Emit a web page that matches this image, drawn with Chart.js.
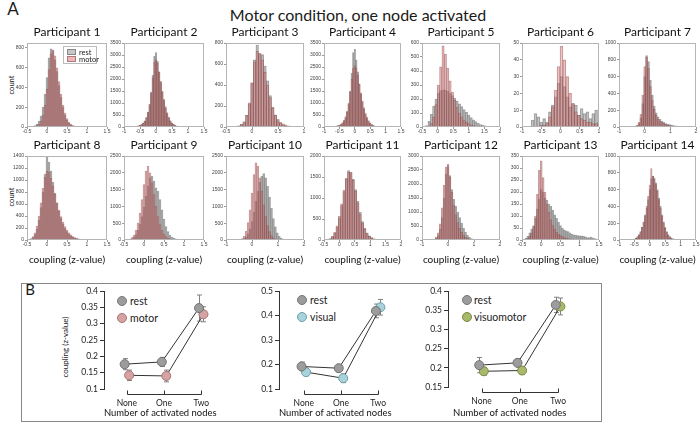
<!DOCTYPE html>
<html>
<head>
<meta charset="utf-8">
<title>Motor condition, one node activated</title>
<script src="https://cdn.jsdelivr.net/npm/chart.js@4.4.1/dist/chart.umd.min.js"></script>
<style>
  body { margin: 0; background: #fff; font-family: Lato, sans-serif; color: #1a1a1a; }
  #page { position: relative; width: 700px; height: 424px; overflow: hidden; }
  #page canvas { position: absolute; }
  .txt { position: absolute; white-space: nowrap; line-height: 1; transform: translate(-50%, -50%); }
  .rot { transform: translate(-50%, -50%) rotate(-90deg); }
  .lt { position: absolute; white-space: nowrap; line-height: 1; transform: translateY(-50%); font-size: 10.5px; color: #222; }
  .dot { position: absolute; width: 8px; height: 8px; border-radius: 50%; transform: translate(-50%, -50%); }
  #boxB { position: absolute; left: 21px; top: 283px; width: 579px; height: 137px; border: 1.5px solid #888; }
  #histLegend { position: absolute; left: 63px; top: 46px; width: 32px; height: 16px; border: 1px solid #bbb; background: #fff; font-size: 7.5px; z-index: 5; }
  #histLegend div { position: absolute; left: 3px; line-height: 1; white-space: nowrap; }
  #histLegend span { display: inline-block; width: 7px; height: 4px; margin-right: 3px; vertical-align: 0px; }
</style>
</head>
<body>
<div id="page">
  <div class="txt" style="left:13px;top:8px;font-size:17px">A</div>
  <div class="txt" style="left:358px;top:15px;font-size:16px">Motor condition, one node activated</div>
  <div class="txt rot" style="left:12px;top:85px;font-size:7.5px">count</div>
  <div class="txt rot" style="left:12px;top:197px;font-size:7.5px">count</div>
  <div id="histLegend">
    <div style="top:2px"><span style="background:#c6c6c6;border:0.5px solid #888"></span>rest</div>
    <div style="top:9px"><span style="background:#ebb8b8;border:0.5px solid #b07a7a"></span>motor</div>
  </div>

  <div id="boxB"></div>
  <div class="txt" style="left:30px;top:289px;font-size:15px">B</div>
  <div class="txt rot" style="left:65px;top:347px;font-size:8px">coupling (z-value)</div>

  <div class="dot" style="left:122px;top:301px;background:#9c9c9c;border:1px solid #777"></div>
  <div class="lt" style="left:130px;top:301px">rest</div>
  <div class="dot" style="left:122px;top:318px;background:#d6a3a3;border:1px solid #a87474"></div>
  <div class="lt" style="left:130px;top:318px">motor</div>

  <div class="dot" style="left:302px;top:300px;background:#9c9c9c;border:1px solid #777"></div>
  <div class="lt" style="left:310px;top:300px">rest</div>
  <div class="dot" style="left:302px;top:317px;background:#a8d3dc;border:1px solid #6e9ea8"></div>
  <div class="lt" style="left:310px;top:317px">visual</div>

  <div class="dot" style="left:467px;top:300px;background:#9c9c9c;border:1px solid #777"></div>
  <div class="lt" style="left:474px;top:300px">rest</div>
  <div class="dot" style="left:467px;top:317px;background:#a9b96b;border:1px solid #7a8a40"></div>
  <div class="lt" style="left:474px;top:317px">visuomotor</div>
</div>

<script>
// ---- Panel A: histogram counts per bin (rest vs motor) ----
const participants = ['Participant 1', 'Participant 2', 'Participant 3', 'Participant 4', 'Participant 5',
    'Participant 6', 'Participant 7', 'Participant 8', 'Participant 9', 'Participant 10',
    'Participant 11', 'Participant 12', 'Participant 13', 'Participant 14'];

// first bin centre and bin width of each histogram
const binStart = [-0.35, -0.85, -0.35, -0.85, -0.35, -0.725, -0.45, -0.45, -0.4, -0.45, -0.45, -0.6, -0.45, -0.6];
const binWidth = [0.05, 0.05, 0.05, 0.05, 0.075, 0.075, 0.075, 0.05, 0.05, 0.075, 0.075, 0.075, 0.05, 0.05];

// axis ranges and tick steps
const xMin = [-0.5, -1, -0.5, -1, -0.5, -1, -1, -0.5, -0.5, -1, -0.5, -1, -0.5, -1];
const xMax = [1.5, 1.5, 1, 1.5, 2, 1, 2, 1.5, 1.5, 2, 2, 2, 1.5, 1.5];
const xStep = [0.5, 0.5, 0.5, 0.5, 0.5, 0.5, 1, 0.5, 0.5, 1, 0.5, 1, 0.5, 0.5];
const yMax = [850, 3500, 800, 3500, 600, 50, 1000, 1400, 2500, 2500, 2000, 3000, 350, 1000];
const yStep = [200, 500, 200, 500, 100, 10, 200, 200, 500, 500, 500, 500, 50, 200];

const rest1 = [5, 15, 30, 60, 110, 200, 330, 500, 700, 790, 770, 680, 560, 420, 300, 200, 120, 70, 40, 22, 12, 7, 4, 2, 1];
const motor1 = [2, 6, 15, 30, 60, 120, 220, 380, 580, 740, 780, 720, 600, 460, 330, 220, 140, 85, 50, 28, 15, 8, 4, 2, 1];
const rest2 = [5, 8, 12, 18, 25, 35, 50, 75, 110, 170, 260, 400, 620, 950, 1450, 2150, 2950, 3100, 2750, 2300, 1850, 1450, 1100, 800, 560, 380, 250, 160, 100, 60, 35, 20, 12, 7, 4, 2, 1];
const motor2 = [4, 6, 10, 15, 22, 32, 46, 70, 105, 160, 250, 385, 600, 920, 1400, 2050, 2700, 2800, 2650, 2300, 1900, 1500, 1150, 850, 600, 410, 270, 175, 110, 65, 40, 24, 14, 8, 5, 3, 1];
const rest3 = [2, 5, 12, 25, 50, 110, 220, 420, 640, 780, 700, 690, 580, 440, 300, 190, 110, 60, 35, 20, 10, 5, 3, 2, 1, 0];
const motor3 = [2, 5, 10, 22, 50, 110, 230, 420, 620, 720, 700, 640, 520, 400, 280, 180, 115, 72, 45, 30, 20, 12, 7, 4, 2, 1];
const rest4 = [4, 7, 11, 16, 24, 34, 48, 72, 105, 165, 255, 390, 610, 960, 1500, 2250, 3100, 3250, 2800, 2300, 1800, 1380, 1030, 750, 520, 350, 230, 150, 95, 58, 34, 20, 12, 7, 4, 2, 1];
const motor4 = [4, 7, 11, 17, 26, 38, 55, 82, 120, 185, 285, 430, 660, 1000, 1450, 2000, 2450, 2550, 2450, 2150, 1780, 1420, 1090, 810, 580, 400, 270, 175, 110, 68, 40, 24, 14, 8, 5, 3, 1];
const rest5 = [10, 40, 90, 150, 200, 240, 260, 265, 262, 255, 240, 225, 205, 185, 165, 145, 125, 105, 85, 68, 52, 38, 27, 18, 12, 8, 5, 3, 2];
const motor5 = [2, 8, 25, 70, 160, 300, 430, 580, 520, 420, 330, 250, 190, 140, 100, 72, 50, 35, 24, 16, 10, 7, 4, 3, 2, 1, 1, 0, 0];
const rest6 = [4, 8, 6, 3, 5, 3, 9, 13, 18, 26, 30, 24, 18, 12, 14, 13, 7, 11, 8, 9, 5, 8, 10, 3];
const motor6 = [0, 0, 0, 1, 1, 2, 6, 12, 22, 36, 48, 40, 30, 20, 14, 9, 7, 5, 4, 3, 3, 2, 2, 1];
const rest7 = [2, 6, 15, 40, 110, 280, 600, 850, 780, 560, 380, 250, 170, 120, 90, 70, 55, 42, 34, 28, 22, 17, 13, 10, 8, 6, 5, 4, 3, 2, 1];
const motor7 = [3, 8, 20, 55, 150, 380, 720, 830, 700, 480, 320, 210, 140, 95, 70, 52, 40, 30, 24, 18, 14, 10, 8, 6, 4, 3, 2, 2, 1, 1, 0];
const rest8 = [5, 15, 40, 90, 180, 330, 540, 800, 1100, 1380, 1300, 1150, 960, 780, 620, 480, 360, 270, 200, 140, 100, 70, 48, 32, 20, 13, 8, 5, 3, 2];
const motor8 = [8, 22, 55, 120, 230, 400, 620, 860, 1050, 1150, 1130, 1030, 900, 760, 620, 500, 390, 300, 225, 165, 120, 85, 58, 40, 27, 18, 11, 7, 4, 2];
const rest9 = [5, 15, 35, 80, 160, 290, 470, 700, 980, 1300, 1600, 1850, 1900, 1750, 1550, 1450, 1200, 900, 620, 400, 250, 150, 90, 55, 32, 18, 10, 6, 3, 2];
const motor9 = [10, 30, 70, 150, 290, 500, 800, 1200, 1650, 2050, 2200, 2000, 1700, 1350, 1000, 700, 460, 290, 175, 100, 58, 32, 18, 10, 5, 3, 2, 1, 0, 0];
const rest10 = [5, 15, 40, 90, 180, 330, 550, 820, 1150, 1450, 1720, 1900, 1980, 1850, 1600, 1280, 940, 640, 390, 215, 110, 55, 25, 12, 5];
const motor10 = [10, 40, 110, 260, 520, 900, 1400, 1950, 2300, 2200, 1850, 1450, 1050, 700, 430, 250, 130, 65, 30, 14, 6, 3, 1, 0, 0];
const rest11 = [3, 10, 30, 75, 160, 310, 530, 820, 1150, 1450, 1650, 1620, 1450, 1200, 920, 660, 440, 280, 170, 100, 55, 30, 16, 8, 4];
const motor11 = [3, 12, 35, 85, 180, 340, 570, 860, 1180, 1470, 1620, 1600, 1420, 1160, 880, 620, 410, 260, 155, 90, 50, 27, 14, 7, 3];
const rest12 = [5, 20, 60, 160, 380, 800, 1500, 2350, 2650, 2300, 1800, 1450, 1200, 1000, 800, 600, 420, 280, 170, 100, 55, 30, 15, 8, 4];
const motor12 = [10, 35, 100, 260, 580, 1150, 1950, 2600, 2700, 2250, 1700, 1250, 900, 620, 420, 270, 170, 100, 60, 35, 20, 11, 6, 3, 1];
const rest13 = [3, 8, 15, 30, 45, 60, 90, 130, 170, 210, 200, 175, 165, 150, 140, 125, 105, 90, 75, 60, 50, 42, 38, 35, 30, 25, 22, 20, 18, 17, 17, 15, 13, 10, 10, 12, 8, 6, 3, 2];
const motor13 = [1, 3, 8, 15, 30, 55, 100, 190, 290, 330, 260, 200, 150, 115, 85, 60, 45, 32, 24, 18, 14, 10, 8, 6, 5, 4, 3, 2, 2, 1, 1, 0, 0, 0, 0, 0, 0, 0, 0, 0];
const rest14 = [3, 6, 12, 22, 40, 65, 100, 150, 210, 290, 380, 480, 600, 730, 760, 740, 680, 600, 500, 400, 300, 215, 150, 100, 65, 40, 25, 15, 9, 5, 3];
const motor14 = [2, 5, 10, 20, 38, 62, 98, 150, 215, 300, 400, 520, 650, 850, 760, 720, 660, 580, 480, 380, 285, 205, 140, 95, 60, 38, 23, 14, 8, 4, 2];

const restSeries = [rest1, rest2, rest3, rest4, rest5, rest6, rest7, rest8, rest9, rest10, rest11, rest12, rest13, rest14];
const motorSeries = [motor1, motor2, motor3, motor4, motor5, motor6, motor7, motor8, motor9, motor10, motor11, motor12, motor13, motor14];

// ---- Panel B: mean coupling with error bars ----
const nodeLabels = ['None', 'One', 'Two'];
const restMotor = [0.176, 0.183, 0.348];
const restMotorErr = [0.017, 0.014, 0.040];
const taskMotor = [0.142, 0.140, 0.329];
const taskMotorErr = [0.016, 0.018, 0.023];
const restVisual = [0.192, 0.185, 0.419];
const restVisualErr = [0.018, 0.010, 0.028];
const taskVisual = [0.169, 0.144, 0.434];
const taskVisualErr = [0.015, 0.018, 0.032];
const restVisuomotor = [0.207, 0.213, 0.364];
const restVisuomotorErr = [0.020, 0.011, 0.020];
const taskVisuomotor = [0.191, 0.193, 0.360];
const taskVisuomotorErr = [0.010, 0.010, 0.022];
const lineYMin = [0.1, 0.1, 0.15];
const lineYMax = [0.4, 0.5, 0.4];

// ---- layout (pixels) ----
const colLeft = [27, 124, 226, 324, 422, 522, 619];
const colRight = [107, 204, 304, 401, 500, 599, 696];

const page = document.getElementById('page');
const fmt = v => String(Math.round(v * 100) / 100);

function addCanvas(left, top, w, h) {
    const c = document.createElement('canvas');
    c.width = w; c.height = h;
    c.style.left = left + 'px'; c.style.top = top + 'px';
    c.style.width = w + 'px'; c.style.height = h + 'px';
    page.appendChild(c);
    return c;
}

// MATLAB-like box round the axes
const boxPlugin = {
    id: 'box',
    afterDraw(chart) {
        const { ctx, chartArea: a } = chart;
        ctx.save();
        ctx.strokeStyle = '#b5b5b5';
        ctx.lineWidth = 1;
        ctx.strokeRect(a.left + 0.5, a.top + 0.5, a.width - 1, a.height - 1);
        ctx.restore();
    }
};

function toBins(i, counts) {
    return counts.map((c, k) => ({ x: +(binStart[i] + k * binWidth[i]).toFixed(4), y: c }));
}

function histogram(i) {
    const col = i % 7, row = Math.floor(i / 7);
    const plotTop = row ? 156 : 43, plotH = 84;
    const axisW = 24, padR = 7, titleH = 18;
    const xAxisH = row ? 26 : 12;
    const w = colRight[col] - colLeft[col] + axisW + padR;
    const canvas = addCanvas(colLeft[col] - axisW, plotTop - titleH, w, titleH + plotH + xAxisH);
    const tickFont = { family: 'Liberation Sans', size: 5 };

    return new Chart(canvas, {
        type: 'bar',
        data: {
            datasets: [
                {
                    label: 'rest',
                    data: toBins(i, restSeries[i]),
                    backgroundColor: 'rgba(140, 140, 140, 0.5)',
                    borderColor: 'rgba(70, 70, 70, 0.45)',
                    borderWidth: 0.5,
                    order: 2
                },
                {
                    label: 'motor',
                    data: toBins(i, motorSeries[i]),
                    backgroundColor: 'rgba(220, 125, 125, 0.45)',
                    borderColor: 'rgba(110, 55, 55, 0.45)',
                    borderWidth: 0.5,
                    order: 1
                }
            ]
        },
        options: {
            responsive: false,
            animation: false,
            devicePixelRatio: 1,
            layout: { padding: { right: padR } },
            datasets: { bar: { barPercentage: 1, categoryPercentage: 1, grouped: false } },
            plugins: {
                legend: { display: false },
                tooltip: { enabled: false },
                title: {
                    display: true,
                    text: participants[i],
                    fullSize: false,
                    color: '#111',
                    font: { family: 'Lato', size: 12, weight: 'normal', lineHeight: 1.2 },
                    padding: { top: 0, bottom: 3.6 }
                }
            },
            scales: {
                x: {
                    type: 'linear',
                    offset: false,
                    min: xMin[i],
                    max: xMax[i],
                    ticks: { stepSize: xStep[i], font: tickFont, color: '#444', padding: 0, maxRotation: 0, autoSkip: false, callback: fmt },
                    grid: { display: true, drawOnChartArea: false, tickLength: 2, color: '#999', offset: false },
                    border: { display: false },
                    title: {
                        display: row === 1,
                        text: 'coupling (z-value)',
                        color: '#111',
                        font: { family: 'Lato', size: 10, lineHeight: 1.2 },
                        padding: 0
                    },
                    afterFit: s => { s.height = xAxisH; }
                },
                y: {
                    min: 0,
                    max: yMax[i],
                    ticks: { stepSize: yStep[i], includeBounds: false, font: tickFont, color: '#444', padding: 1, callback: fmt },
                    grid: { display: true, drawOnChartArea: false, tickLength: 2, color: '#999' },
                    border: { display: false },
                    afterFit: s => { s.width = axisW; }
                }
            }
        },
        plugins: [boxPlugin]
    });
}

for (let i = 0; i < 14; i++) histogram(i);

// ---- Panel B ----
const errorBars = {
    id: 'errorBars',
    beforeDatasetsDraw(chart) {
        const { ctx, scales: { x, y } } = chart;
        ctx.save();
        ctx.strokeStyle = '#808080';
        ctx.lineWidth = 1;
        chart.data.datasets.forEach(ds => {
            ds.data.forEach((p, j) => {
                const px = Math.round(x.getPixelForValue(p.x)) + 0.5;
                const y1 = y.getPixelForValue(p.y + ds.errs[j]);
                const y2 = y.getPixelForValue(p.y - ds.errs[j]);
                ctx.beginPath();
                ctx.moveTo(px, y1); ctx.lineTo(px, y2);
                ctx.moveTo(px - 2.5, y1); ctx.lineTo(px + 2.5, y1);
                ctx.moveTo(px - 2.5, y2); ctx.lineTo(px + 2.5, y2);
                ctx.stroke();
            });
        });
        ctx.restore();
    }
};

// detached bracket under the category positions
const bracket = {
    id: 'bracket',
    afterDraw(chart) {
        const { ctx, chartArea: a, scales: { x } } = chart;
        const yb = Math.round(a.bottom + 5) + 0.5;
        const xs = nodeLabels.map((l, j) => Math.round(x.getPixelForValue(j)) + 0.5);
        ctx.save();
        ctx.strokeStyle = '#333';
        ctx.lineWidth = 1;
        ctx.beginPath();
        ctx.moveTo(xs[0], yb - 4); ctx.lineTo(xs[0], yb); ctx.lineTo(xs[2], yb); ctx.lineTo(xs[2], yb - 4);
        ctx.moveTo(xs[1], yb); ctx.lineTo(xs[1], yb - 4);
        ctx.stroke();
        ctx.restore();
    }
};

const lineAxisLeft = [104, 279, 448];
const noneX = [128, 305, 483];
const twoX = [206, 383, 563];
const lineRight = [222, 397, 577];
const lineBottom = [389, 389, 387];

function series(vals, errs, dx, fill, edge) {
    return {
        data: vals.map((v, j) => ({ x: j + dx, y: v })),
        errs: errs,
        showLine: true,
        borderColor: '#333',
        borderWidth: 1,
        pointRadius: 4.5,
        pointBackgroundColor: fill,
        pointBorderColor: edge,
        pointBorderWidth: 1
    };
}

function lineChart(k, restVals, restErrs, taskVals, taskErrs, fill, edge) {
    const top = 284, bottom = 419, axisW = 40;
    const unit = (twoX[k] - noneX[k]) / 2;
    const left = lineAxisLeft[k] - axisW;
    const canvas = addCanvas(left, top, lineRight[k] - left, bottom - top);
    const xH = bottom - lineBottom[k];

    return new Chart(canvas, {
        type: 'scatter',
        data: {
            datasets: [
                series(restVals, restErrs, -0.06, '#9c9c9c', '#727272'),
                series(taskVals, taskErrs, 0.06, fill, edge)
            ]
        },
        options: {
            responsive: false,
            animation: false,
            devicePixelRatio: 1,
            layout: { padding: { top: 6, right: 0 } },
            plugins: { legend: { display: false }, tooltip: { enabled: false } },
            scales: {
                x: {
                    type: 'linear',
                    min: (lineAxisLeft[k] - noneX[k]) / unit,
                    max: (lineRight[k] - noneX[k]) / unit,
                    afterBuildTicks: s => { s.ticks = nodeLabels.map((l, j) => ({ value: j })); },
                    ticks: { callback: v => nodeLabels[v], autoSkip: false, maxRotation: 0, padding: 9, color: '#222', font: { family: 'Lato', size: 8.5 } },
                    grid: { display: false, drawTicks: false },
                    border: { display: false },
                    title: { display: true, text: 'Number of activated nodes', color: '#111', font: { family: 'Lato', size: 9.5, lineHeight: 1.2 }, padding: 0 },
                    afterFit: s => { s.height = xH; }
                },
                y: {
                    min: lineYMin[k],
                    max: lineYMax[k],
                    ticks: { stepSize: 0.05, padding: 2, color: '#222', font: { family: 'Lato', size: 8.5 }, callback: fmt },
                    grid: { display: true, drawOnChartArea: false, tickLength: 4, color: '#333' },
                    border: { display: true, color: '#333', width: 1 },
                    afterFit: s => { s.width = axisW; }
                }
            }
        },
        plugins: [errorBars, bracket]
    });
}

lineChart(0, restMotor, restMotorErr, taskMotor, taskMotorErr, '#d6a3a3', '#a87474');
lineChart(1, restVisual, restVisualErr, taskVisual, taskVisualErr, '#a8d3dc', '#6e9ea8');
lineChart(2, restVisuomotor, restVisuomotorErr, taskVisuomotor, taskVisuomotorErr, '#a9b96b', '#7a8a40');
</script>
</body>
</html>
